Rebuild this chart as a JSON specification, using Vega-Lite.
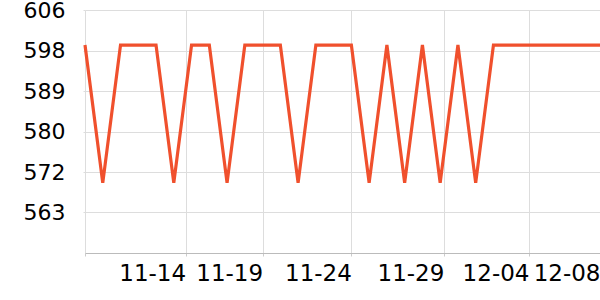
{
  "$schema": "https://vega.github.io/schema/vega-lite/v6.json",
  "width": 515,
  "height": 243,
  "autosize": "none",
  "padding": {"left": 85, "top": 10, "right": 0, "bottom": 47},
  "background": "white",
  "config": {"view": {"stroke": null}},
  "data": {
    "values": [
      {"date": "2023-11-09", "value": 598.5},
      {"date": "2023-11-10", "value": 569},
      {"date": "2023-11-11", "value": 598.5},
      {"date": "2023-11-12", "value": 598.5},
      {"date": "2023-11-13", "value": 598.5},
      {"date": "2023-11-14", "value": 569},
      {"date": "2023-11-15", "value": 598.5},
      {"date": "2023-11-16", "value": 598.5},
      {"date": "2023-11-17", "value": 569},
      {"date": "2023-11-18", "value": 598.5},
      {"date": "2023-11-19", "value": 598.5},
      {"date": "2023-11-20", "value": 598.5},
      {"date": "2023-11-21", "value": 569},
      {"date": "2023-11-22", "value": 598.5},
      {"date": "2023-11-23", "value": 598.5},
      {"date": "2023-11-24", "value": 598.5},
      {"date": "2023-11-25", "value": 569},
      {"date": "2023-11-26", "value": 598.5},
      {"date": "2023-11-27", "value": 569},
      {"date": "2023-11-28", "value": 598.5},
      {"date": "2023-11-29", "value": 569},
      {"date": "2023-11-30", "value": 598.5},
      {"date": "2023-12-01", "value": 569},
      {"date": "2023-12-02", "value": 598.5},
      {"date": "2023-12-03", "value": 598.5},
      {"date": "2023-12-04", "value": 598.5},
      {"date": "2023-12-05", "value": 598.5},
      {"date": "2023-12-06", "value": 598.5},
      {"date": "2023-12-07", "value": 598.5},
      {"date": "2023-12-08", "value": 598.5}
    ]
  },
  "mark": {"type": "line", "color": "#f0502d", "strokeWidth": 3.2, "clip": false},
  "encoding": {
    "x": {
      "field": "date",
      "type": "temporal",
      "scale": {"type": "utc", "nice": false},
      "axis": {
        "title": null,
        "values": [
          {"year": 2023, "month": 11, "date": 9, "utc": true},
          {"year": 2023, "month": 11, "date": 14, "hours": 16, "utc": true},
          {"year": 2023, "month": 11, "date": 19, "utc": true},
          {"year": 2023, "month": 11, "date": 24, "utc": true},
          {"year": 2023, "month": 11, "date": 29, "hours": 5, "utc": true},
          {"year": 2023, "month": 12, "date": 4, "utc": true},
          {"year": 2023, "month": 12, "date": 8, "utc": true}
        ],
        "labelExpr": "utcdate(datum.value) == 9 ? '' : utcFormat(datum.value, '%m-%d')",
        "labelAlign": "right",
        "labelFont": "DejaVu Sans",
        "labelFontSize": 23,
        "labelColor": "#000000",
        "labelPadding": 6,
        "labelFlush": false,
        "labelOverlap": false,
        "domain": true,
        "domainColor": "#bbbbbb",
        "domainWidth": 1,
        "ticks": true,
        "tickSize": 3,
        "tickColor": "#cccccc",
        "grid": true,
        "gridColor": "#dddddd",
        "gridWidth": 1
      }
    },
    "y": {
      "field": "value",
      "type": "quantitative",
      "scale": {"domain": [554, 606], "nice": false, "zero": false},
      "axis": {
        "title": null,
        "values": [562.6666667, 571.3333333, 580, 588.6666667, 597.3333333, 606],
        "labelExpr": "'' + ceil(datum.value - 0.0001)",
        "labelFont": "DejaVu Sans",
        "labelFontSize": 22,
        "labelColor": "#000000",
        "labelPadding": 18,
        "domain": false,
        "ticks": true,
        "tickSize": 2,
        "tickColor": "#dddddd",
        "grid": true,
        "gridColor": "#dddddd",
        "gridWidth": 1
      }
    }
  }
}
